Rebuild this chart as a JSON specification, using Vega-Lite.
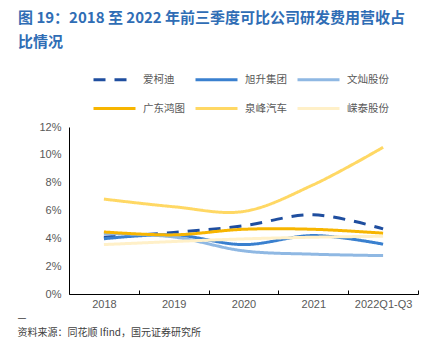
{
  "$schema": "https://vega.github.io/schema/vega-lite/v6.json",
  "width": 349,
  "height": 167,
  "autosize": {"type": "none"},
  "padding": {"left": 69, "top": 127, "right": 21, "bottom": 58},
  "background": "white",
  "title": {
    "text": ["图 19：2018 至 2022 年前三季度可比公司研发费用营收占", "比情况"],
    "anchor": "start",
    "frame": "group",
    "orient": "top",
    "dx": -51,
    "offset": 7,
    "font": "Noto Sans CJK SC",
    "fontSize": 15,
    "fontWeight": "bold",
    "color": "#2F6DB5",
    "lineHeight": 24
  },
  "config": {
    "view": {"stroke": null},
    "font": "Liberation Sans"
  },
  "data": {
    "values": [
      {"year": "2018", "company": "爱柯迪", "value": 0.0407},
      {"year": "2019", "company": "爱柯迪", "value": 0.0442},
      {"year": "2020", "company": "爱柯迪", "value": 0.049},
      {"year": "2021", "company": "爱柯迪", "value": 0.0569},
      {"year": "2022Q1-Q3", "company": "爱柯迪", "value": 0.0468},
      {"year": "2018", "company": "旭升集团", "value": 0.0397},
      {"year": "2019", "company": "旭升集团", "value": 0.0425},
      {"year": "2020", "company": "旭升集团", "value": 0.0355},
      {"year": "2021", "company": "旭升集团", "value": 0.042},
      {"year": "2022Q1-Q3", "company": "旭升集团", "value": 0.0358},
      {"year": "2018", "company": "文灿股份", "value": 0.0435},
      {"year": "2019", "company": "文灿股份", "value": 0.041},
      {"year": "2020", "company": "文灿股份", "value": 0.031},
      {"year": "2021", "company": "文灿股份", "value": 0.0286},
      {"year": "2022Q1-Q3", "company": "文灿股份", "value": 0.0276},
      {"year": "2018", "company": "广东鸿图", "value": 0.0446},
      {"year": "2019", "company": "广东鸿图", "value": 0.0425},
      {"year": "2020", "company": "广东鸿图", "value": 0.0465},
      {"year": "2021", "company": "广东鸿图", "value": 0.0465},
      {"year": "2022Q1-Q3", "company": "广东鸿图", "value": 0.0437},
      {"year": "2018", "company": "泉峰汽车", "value": 0.0682},
      {"year": "2019", "company": "泉峰汽车", "value": 0.0627},
      {"year": "2020", "company": "泉峰汽车", "value": 0.0593},
      {"year": "2021", "company": "泉峰汽车", "value": 0.0785},
      {"year": "2022Q1-Q3", "company": "泉峰汽车", "value": 0.1054},
      {"year": "2018", "company": "嵘泰股份", "value": 0.0355},
      {"year": "2019", "company": "嵘泰股份", "value": 0.0377},
      {"year": "2020", "company": "嵘泰股份", "value": 0.0396},
      {"year": "2021", "company": "嵘泰股份", "value": 0.0408},
      {"year": "2022Q1-Q3", "company": "嵘泰股份", "value": 0.0415}
    ]
  },
  "mark": {"type": "line", "interpolate": "catmull-rom", "strokeWidth": 3},
  "encoding": {
    "x": {
      "field": "year",
      "type": "ordinal",
      "scale": {"type": "band", "paddingInner": 0, "paddingOuter": 0},
      "axis": {
        "title": ["—", "资料来源：同花顺 Ifind，国元证券研究所"],
        "titleX": -52,
        "titleY": 26,
        "titleAlign": "left",
        "titleAnchor": "start",
        "titleBaseline": "alphabetic",
        "titleFont": "Noto Sans CJK SC",
        "titleFontSize": 10,
        "titleFontWeight": "normal",
        "titleColor": "#404040",
        "titleLineHeight": 15,
        "labelAngle": 0,
        "labelColor": "#595959",
        "labelFontSize": 11,
        "labelPadding": 8,
        "tickBand": "extent",
        "tickSize": -4,
        "tickColor": "#000000",
        "domainColor": "#000000",
        "grid": false
      }
    },
    "y": {
      "field": "value",
      "type": "quantitative",
      "scale": {"domain": [0, 0.12]},
      "axis": {
        "title": null,
        "values": [0, 0.02, 0.04, 0.06, 0.08, 0.1, 0.12],
        "format": ".0%",
        "labelColor": "#595959",
        "labelFontSize": 11,
        "labelPadding": 8,
        "ticks": false,
        "domainColor": "#000000",
        "grid": false
      }
    },
    "color": {
      "field": "company",
      "type": "nominal",
      "scale": {
        "domain": ["爱柯迪", "旭升集团", "文灿股份", "广东鸿图", "泉峰汽车", "嵘泰股份"],
        "range": ["#1F4E9F", "#3A80CF", "#8FB8E3", "#F7B500", "#FFD864", "#FFF0C8"]
      },
      "legend": {
        "title": null,
        "orient": "none",
        "legendX": 23,
        "legendY": -70,
        "direction": "horizontal",
        "columns": 3,
        "columnPadding": 4,
        "rowPadding": -26,
        "symbolType": "stroke",
        "symbolSize": 1764,
        "symbolStrokeWidth": 3,
        "labelFont": "Noto Sans CJK SC",
        "labelFontSize": 10.5,
        "labelColor": "#595959",
        "labelOffset": 6,
        "labelLimit": 60
      }
    },
    "strokeDash": {
      "field": "company",
      "type": "nominal",
      "scale": {
        "domain": ["爱柯迪", "旭升集团", "文灿股份", "广东鸿图", "泉峰汽车", "嵘泰股份"],
        "range": [[12, 9], [1, 0], [1, 0], [1, 0], [1, 0], [1, 0]]
      },
      "legend": null
    }
  }
}
